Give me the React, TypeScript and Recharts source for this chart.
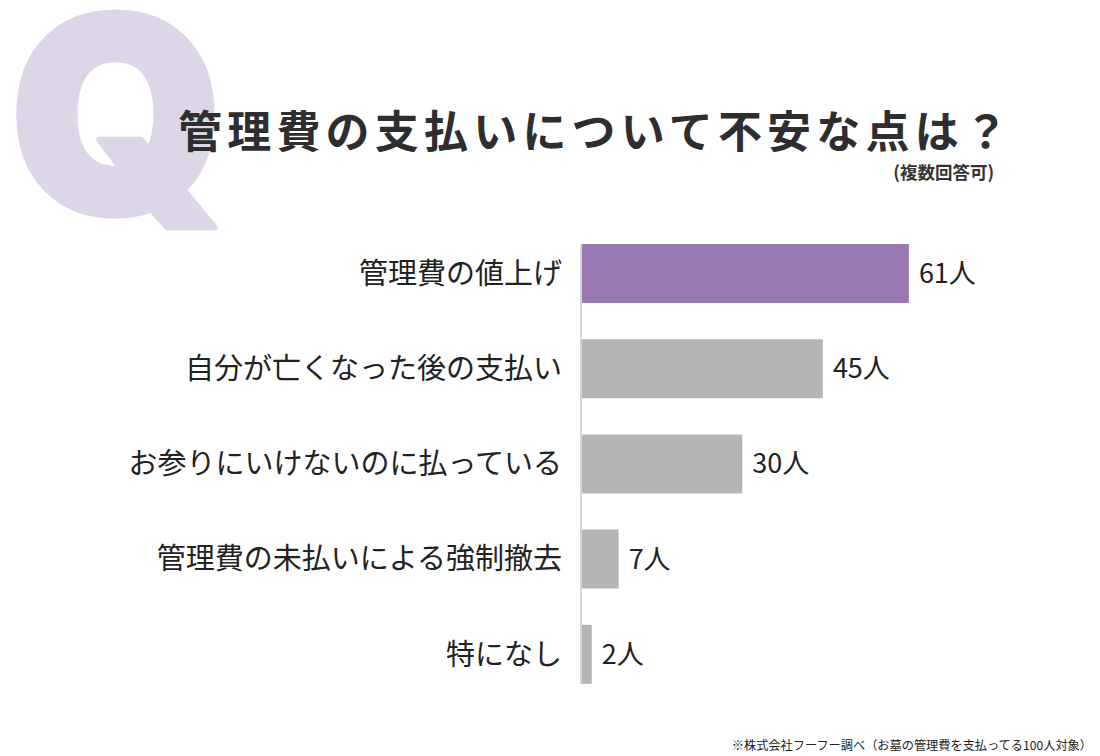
import React from 'react';
import { BarChart, Bar, XAxis, YAxis, Cell, LabelList } from 'recharts';

// 管理費の支払いについての不安（複数回答可、100人）
const categories: string[] = [
  '管理費の値上げ',
  '自分が亡くなった後の支払い',
  'お参りにいけないのに払っている',
  '管理費の未払いによる強制撤去',
  '特になし',
];
const counts: number[] = [61, 45, 30, 7, 2];
const barColors: string[] = ['#9979b1', '#b5b4b7', '#b5b4b7', '#b5b4b7', '#b5b4b7'];

const titleText = '管理費の支払いについて不安な点は？';
const subtitleText = '(複数回答可)';
const noteText = '※株式会社フーフー調べ（お墓の管理費を支払ってる100人対象）';
const unit = '人';

const data = categories.map((name, i) => ({ name, value: counts[i] }));

const FONT = "'Noto Sans CJK JP', 'Noto Sans', sans-serif";

export default function App() {
  return (
    <div
      style={{
        position: 'absolute',
        left: 0,
        top: 0,
        width: 1100,
        height: 756,
        background: '#ffffff',
        fontFamily: FONT,
      }}
    >
      <svg
        width={1100}
        height={756}
        style={{ position: 'absolute', left: 0, top: 0 }}
      >
        <text
          x={10}
          y={213}
          fontFamily="Inter, 'Liberation Sans', sans-serif"
          fontWeight={900}
          fontSize={272}
          fill="#ddd6e6"
          stroke="#ddd6e6"
          strokeWidth={6}
          strokeLinejoin="round"
        >
          Q
        </text>
        <text
          x={178}
          y={148}
          fontFamily={FONT}
          fontWeight={700}
          fontSize={44}
          letterSpacing={5.2}
          fill="#2e2e30"
        >
          {titleText}
        </text>
        <text
          x={994}
          y={179}
          textAnchor="end"
          fontFamily={FONT}
          fontWeight={700}
          fontSize={17.5}
          fill="#333333"
        >
          {subtitleText}
        </text>
        <text
          x={1092}
          y={750}
          textAnchor="end"
          fontFamily={FONT}
          fontSize={12.2}
          fill="#222222"
        >
          {noteText}
        </text>
      </svg>
      <div style={{ position: 'absolute', left: 0, top: 0 }}>
        <BarChart
          width={1100}
          height={756}
          layout="vertical"
          data={data}
          margin={{ top: 244, right: 89, bottom: 72, left: 0 }}
        >
          <XAxis type="number" domain={[0, 80]} hide />
          <YAxis
            type="category"
            dataKey="name"
            width={581}
            padding={{ top: -18, bottom: -18 }}
            axisLine={{ stroke: '#d7d3dd', strokeWidth: 2 }}
            tickLine={false}
            tickSize={6}
            tickMargin={13}
            tick={{ fontSize: 29, fill: '#222222', fontFamily: FONT }}
            interval={0}
          />
          <Bar dataKey="value" barSize={59} isAnimationActive={false}>
            {data.map((d, i) => (
              <Cell key={d.name} fill={barColors[i]} />
            ))}
            <LabelList
              dataKey="value"
              position="right"
              offset={10}
              formatter={(v: any) => `${v}${unit}`}
              style={{ fontSize: 27, fill: '#222222', fontFamily: FONT }}
            />
          </Bar>
        </BarChart>
      </div>
    </div>
  );
}
